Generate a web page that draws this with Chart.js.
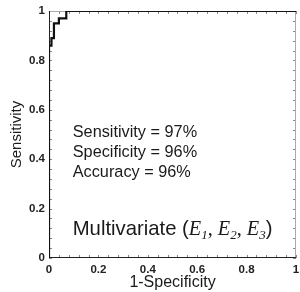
<!DOCTYPE html>
<html>
<head>
<meta charset="utf-8">
<script src="https://cdn.jsdelivr.net/npm/chart.js@4"></script>
<style>
  html, body { margin: 0; padding: 0; background: #fff; }
</style>
</head>
<body>
<canvas id="roc" width="300" height="292"></canvas>
<script>
// ROC curve corners (false positive rate / true positive rate)
const fpr = [0, 0, 0.01, 0.02, 0.04, 0.07, 1];
const tpr = [0, 0.86, 0.89, 0.95, 0.97, 1, 1];

const tickStep = 0.04;   // small tick marks
const labelStep = 0.2;   // labelled ticks
const xTitle = "1-Specificity";
const yTitle = "Sensitivity";
const statLines = ["Sensitivity = 97%", "Specificity = 96%", "Accuracy = 96%"];
// "Multivariate (E1, E2, E3)" with italic E and subscripts
const modelParts = [
  ["Multivariate (", "sans"],
  ["E", "it"], ["1", "sub"], [", ", "serif"],
  ["E", "it"], ["2", "sub"], [", ", "serif"],
  ["E", "it"], ["3", "sub"], [")", "sans"]
];

const SANS = '"Liberation Sans", Arial, Helvetica, sans-serif';
const SERIF = '"Liberation Serif", "Times New Roman", serif';
const partFonts = {
  sans: "20.3px " + SANS,
  it: "italic 20.3px " + SERIF,
  sub: "italic 13px " + SERIF,
  serif: "20.3px " + SERIF
};

function tickLabel(v) {
  const k = v / labelStep;
  if (Math.abs(k - Math.round(k)) > 1e-6) return "";
  const r = Math.round(k) * labelStep;
  if (Math.abs(r) < 1e-9) return "0";
  if (Math.abs(r - 1) < 1e-9) return "1";
  return r.toFixed(1);
}

const framePlugin = {
  id: "frame",
  beforeDatasetsDraw(chart) {
    const { ctx, chartArea: a, scales: { x, y } } = chart;
    ctx.save();
    ctx.lineWidth = 1;

    // inward tick marks on all four sides
    ctx.strokeStyle = "#888";
    ctx.beginPath();
    x.ticks.forEach((t) => {
      const px = Math.round(x.getPixelForValue(t.value)) + 0.5;
      ctx.moveTo(px, a.bottom); ctx.lineTo(px, a.bottom - 3);
      ctx.moveTo(px, a.top); ctx.lineTo(px, a.top + 3);
    });
    y.ticks.forEach((t) => {
      const py = Math.round(y.getPixelForValue(t.value)) + 0.5;
      ctx.moveTo(a.left, py); ctx.lineTo(a.left + 3, py);
      ctx.moveTo(a.right, py); ctx.lineTo(a.right - 3, py);
    });
    ctx.stroke();

    // top and right edges are light grey
    ctx.strokeStyle = "#aaa";
    ctx.beginPath();
    ctx.moveTo(a.left, a.top + 0.5); ctx.lineTo(a.right - 0.5, a.top + 0.5);
    ctx.lineTo(a.right - 0.5, a.bottom);
    ctx.stroke();

    // left and bottom axes are black
    ctx.strokeStyle = "#222";
    ctx.beginPath();
    ctx.moveTo(a.left + 0.5, a.top); ctx.lineTo(a.left + 0.5, a.bottom - 0.5);
    ctx.lineTo(a.right, a.bottom - 0.5);
    ctx.stroke();
    ctx.restore();
  },
  afterDraw(chart) {
    const { ctx, scales: { x, y } } = chart;
    ctx.save();
    ctx.fillStyle = "#1a1a1a";
    ctx.textBaseline = "alphabetic";
    ctx.textAlign = "left";

    const left = x.getPixelForValue(0.096);
    ctx.font = "16.3px " + SANS;
    statLines.forEach((line, i) => {
      ctx.fillText(line, left, y.getPixelForValue(0.488 - i * 0.081));
    });

    let cx = left;
    const base = y.getPixelForValue(0.093);
    modelParts.forEach(([txt, kind]) => {
      ctx.font = partFonts[kind];
      ctx.fillText(txt, cx, kind === "sub" ? base + 4 : base);
      cx += ctx.measureText(txt).width;
    });
    ctx.restore();
  }
};

const axisTicks = {
  stepSize: tickStep,
  autoSkip: false,
  maxRotation: 0,
  color: "#222",
  font: { family: SANS, size: 11.5, weight: "bold" },
  callback: tickLabel
};

new Chart(document.getElementById("roc").getContext("2d"), {
  type: "line",
  data: {
    datasets: [{
      data: fpr.map((v, i) => ({ x: v, y: tpr[i] })),
      borderColor: "#111",
      borderWidth: 2.2,
      pointRadius: 0,
      stepped: "before",
      fill: false
    }]
  },
  options: {
    responsive: false,
    animation: false,
    layout: { padding: { top: 11, right: 4, left: 0, bottom: 0 } },
    plugins: { legend: { display: false }, tooltip: { enabled: false } },
    scales: {
      x: {
        type: "linear",
        min: 0, max: 1,
        grid: { display: false, drawTicks: false },
        border: { display: false },
        ticks: { ...axisTicks, padding: 5 },
        title: {
          display: true, text: xTitle, color: "#1a1a1a",
          font: { family: SANS, size: 16, lineHeight: 1.2 },
          padding: { top: 0, bottom: 0 }
        },
        afterFit(scale) {
          scale.height = 34;
          scale.paddingLeft = 0;
          scale.paddingRight = 0;
        }
      },
      y: {
        type: "linear",
        min: 0, max: 1,
        grid: { display: false, drawTicks: false },
        border: { display: false },
        ticks: { ...axisTicks, padding: 4 },
        title: {
          display: true, text: yTitle, color: "#1a1a1a",
          font: { family: SANS, size: 15, lineHeight: 1.2 },
          padding: { top: 8, bottom: 0 }
        },
        afterFit(scale) {
          scale.width = 49;
          scale.paddingTop = 0;
          scale.paddingBottom = 0;
        }
      }
    }
  },
  plugins: [framePlugin]
});
</script>
</body>
</html>
